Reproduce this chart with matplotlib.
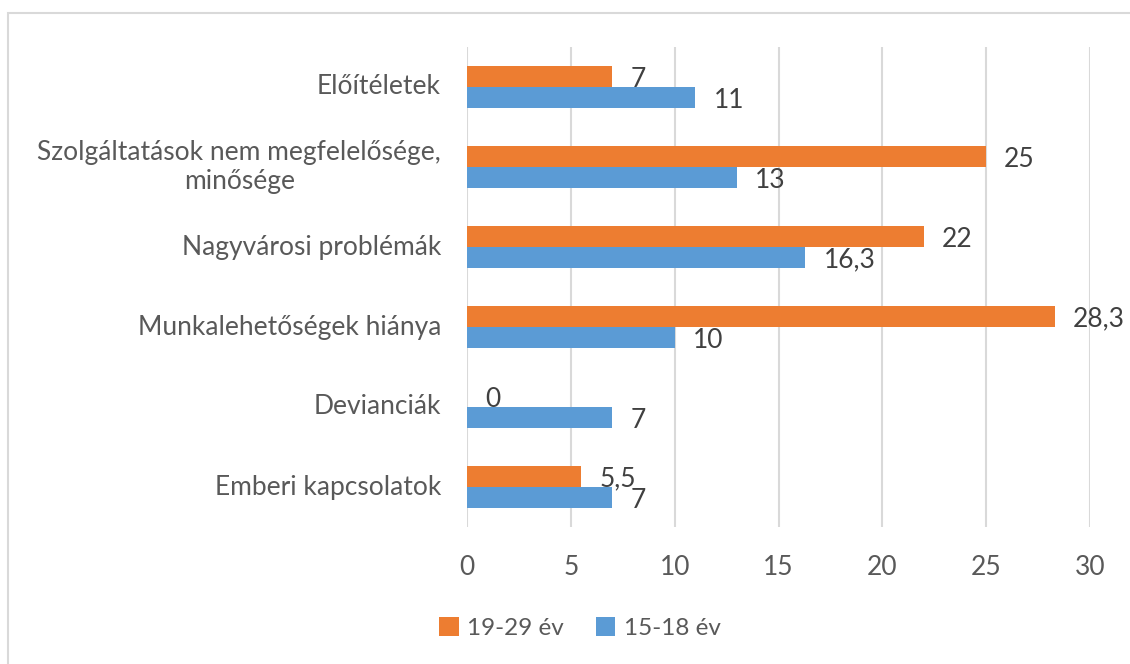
import matplotlib
matplotlib.use("Agg")
import matplotlib.pyplot as plt
import numpy as np
from matplotlib.patches import Rectangle
from matplotlib.transforms import offset_copy

# Data (bottom to top, as in the chart)
categories = ["Emberi kapcsolatok", "Devianciák", "Munkalehetőségek hiánya",
              "Nagyvárosi problémák", "Szolgáltatások nem megfelelősége,\nminősége",
              "Előítéletek"]
series_names = ["19-29 év", "15-18 év"]
values_19_29 = [5.5, 0, 28.3, 22, 25, 7]
values_15_18 = [7, 7, 10, 16.3, 13, 11]
value_labels_19_29 = ["5,5", "0", "28,3", "22", "25", "7"]
value_labels_15_18 = ["7", "7", "10", "16,3", "13", "11"]
x_ticks = [0, 5, 10, 15, 20, 25, 30]

orange = "#ED7D31"
blue = "#5B9BD5"
text_gray = "#595959"
label_dark = "#404040"
grid_gray = "#D9D9D9"
FS = 19

plt.rcParams['font.family'] = ['Lato', 'DejaVu Sans']

fig = plt.figure(figsize=(11.3, 6.64), dpi=100)
ax = fig.add_axes([467/1130, 1-527/664, (1090-467)/1130, (527-47)/664])

# outer border (continues past the right and bottom edges)
fig.patches.append(Rectangle((8/1130, -0.1), 1.2, 1.1-13/664, transform=fig.transFigure,
                             fill=False, edgecolor="#D9D9D9", linewidth=1.5, clip_on=False))

y = np.arange(len(categories))
h = 0.262
ax.barh(y + h/2, values_19_29, height=h, color=orange, label=series_names[0], zorder=3)
ax.barh(y - h/2, values_15_18, height=h, color=blue, label=series_names[1], zorder=3)

for yi, v, lab in zip(y, values_19_29, value_labels_19_29):
    ax.annotate(lab, (v, yi + h/2), xytext=(13, -2), textcoords="offset points",
                ha="left", va="center", fontsize=FS, color=label_dark)
for yi, v, lab in zip(y, values_15_18, value_labels_15_18):
    ax.annotate(lab, (v, yi - h/2), xytext=(13, -2), textcoords="offset points",
                ha="left", va="center", fontsize=FS, color=label_dark)

ax.set_xlim(0, 30)
ax.set_ylim(-0.5, len(categories) - 0.5)
ax.set_xticks(x_ticks)
ax.set_xticklabels([str(t) for t in x_ticks])
ax.set_yticks(y)
ax.set_yticklabels([])
ax.tick_params(axis="y", length=0)
ax.tick_params(axis="x", length=0, pad=20, labelsize=FS, labelcolor=text_gray)

# category labels: right-aligned block, lines centred within the block
fig.canvas.draw()
renderer = fig.canvas.get_renderer()
right_px = ax.transAxes.transform((0, 0))[0] - 26
line_h = 29  # px between lines
for yi, cat in zip(y, categories):
    lines = cat.split("\n")
    ycen_px = ax.transData.transform((0, yi))[1]
    widths = []
    for ln in lines:
        t = fig.text(0, 0, ln, fontsize=FS)
        widths.append(t.get_window_extent(renderer).width)
        t.remove()
    block_w = max(widths)
    xc = right_px - block_w / 2
    n = len(lines)
    for i, ln in enumerate(lines):
        yp = ycen_px + ((n - 1) / 2 - i) * line_h
        fig.text(xc / fig.bbox.width, yp / fig.bbox.height, ln, ha="center", va="center",
                 fontsize=FS, color=text_gray)

ax.grid(axis="x", color=grid_gray, linewidth=1.5, zorder=0)
for s in ax.spines.values():
    s.set_visible(False)

leg = fig.legend(loc="center", bbox_to_anchor=(580/1130, 1-628/664), ncol=2, frameon=False,
                 fontsize=17.5, labelcolor=text_gray, handlelength=0.8, handleheight=0.8,
                 handletextpad=0.35, columnspacing=1.3)

fig.savefig("out.png", dpi=100)
